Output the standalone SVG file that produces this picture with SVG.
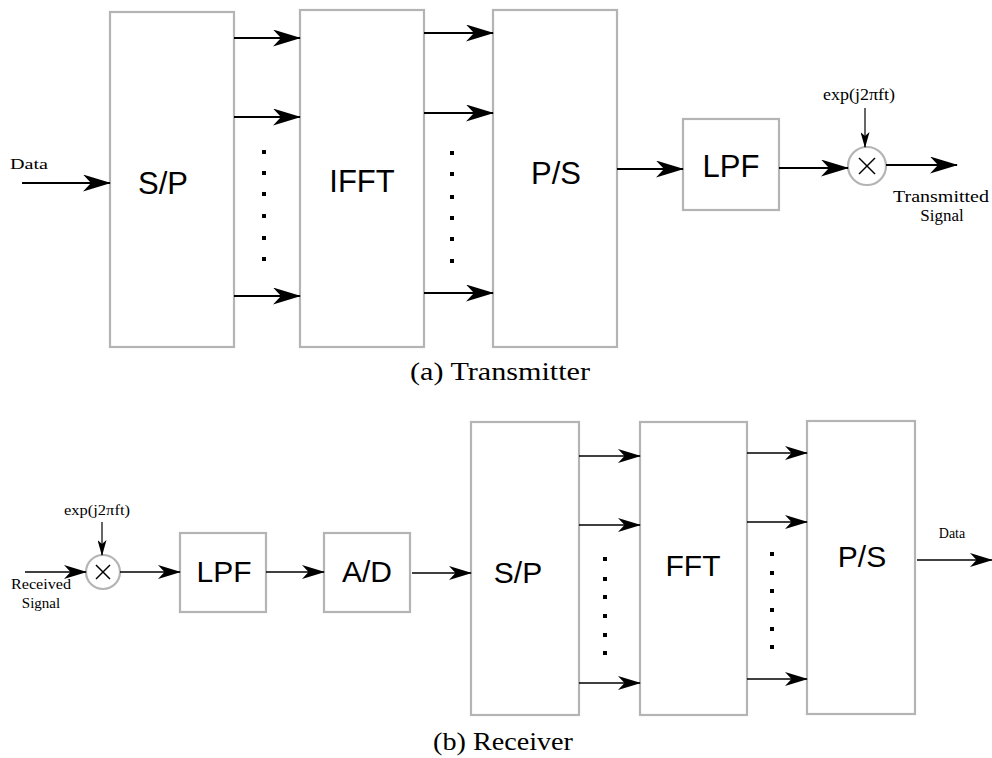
<svg xmlns="http://www.w3.org/2000/svg" width="992" height="758" viewBox="0 0 992 758">
<style>
.box{fill:#fff;stroke:#b4b4b4;stroke-width:2.2}
.mix{fill:#fff;stroke:#b4b4b4;stroke-width:2.2}
.lbl{font-family:"Liberation Sans",Arial,sans-serif;fill:#000;text-anchor:middle}
.ser{font-family:"Liberation Serif","Times New Roman",serif;fill:#000}
.big{stroke:#000;stroke-width:2;fill:none;marker-end:url(#ah)}
.sm{stroke:#000;stroke-width:1.6;fill:none;marker-end:url(#as)}
.th{stroke:#000;stroke-width:1.2;fill:none;marker-end:url(#at)}
.x{stroke:#000;stroke-width:1.5}
.dot{fill:#000}
</style>
<defs>
<marker id="ah" viewBox="0 0 28 17" refX="27" refY="8.5" markerWidth="28" markerHeight="17" markerUnits="userSpaceOnUse" orient="auto">
<path d="M0,0 L28,8.5 L0,17 L8,8.5 Z" fill="#000"/>
</marker>
<marker id="as" viewBox="0 0 23 14" refX="22" refY="7" markerWidth="23" markerHeight="14" markerUnits="userSpaceOnUse" orient="auto">
<path d="M0,0 L23,7 L0,14 L6.5,7 Z" fill="#000"/>
</marker>
<marker id="at" viewBox="0 0 16 9" refX="15" refY="4.5" markerWidth="16" markerHeight="9" markerUnits="userSpaceOnUse" orient="auto">
<path d="M0,0 L16,4.5 L0,9 L4,4.5 Z" fill="#000"/>
</marker>
</defs>

<!-- Transmitter -->
<g id="tx-data-label"><text class="ser" x="10" y="169" font-size="15" textLength="38" lengthAdjust="spacingAndGlyphs">Data</text></g>
<g id="tx-sp"><rect class="box" x="110" y="12" width="124" height="335"/><text class="lbl" x="163" y="194" font-size="31">S/P</text></g>
<g id="tx-ifft"><rect class="box" x="300" y="10" width="124" height="337"/><text class="lbl" x="362" y="192" font-size="31">IFFT</text></g>
<g id="tx-ps"><rect class="box" x="493" y="10" width="124" height="337"/><text class="lbl" x="556" y="184" font-size="31">P/S</text></g>
<g id="tx-lpf"><rect class="box" x="683" y="119" width="96" height="91"/><text class="lbl" x="731" y="177" font-size="31">LPF</text></g>
<g id="tx-mixer"><circle class="mix" cx="867" cy="166" r="19"/><line class="x" x1="859" y1="158" x2="875" y2="174"/><line class="x" x1="875" y1="158" x2="859" y2="174"/></g>
<g id="tx-exp"><text class="ser" x="823" y="100" font-size="16" textLength="72" lengthAdjust="spacingAndGlyphs">exp(j2πft)</text></g>
<g id="tx-out-label"><text class="ser" x="893" y="202" font-size="17" textLength="96" lengthAdjust="spacingAndGlyphs">Transmitted</text><text class="ser" x="942" y="221" font-size="17" text-anchor="middle">Signal</text></g>
<g id="tx-dots">
<rect class="dot" x="262" y="150" width="4" height="4"/><rect class="dot" x="262" y="171" width="4" height="4"/><rect class="dot" x="262" y="192" width="4" height="4"/><rect class="dot" x="262" y="214" width="4" height="4"/><rect class="dot" x="262" y="236" width="4" height="4"/><rect class="dot" x="262" y="257" width="4" height="4"/>
<rect class="dot" x="450" y="151" width="4" height="4"/><rect class="dot" x="450" y="172" width="4" height="4"/><rect class="dot" x="450" y="195" width="4" height="4"/><rect class="dot" x="450" y="216" width="4" height="4"/><rect class="dot" x="450" y="237" width="4" height="4"/><rect class="dot" x="450" y="259" width="4" height="4"/>
</g>
<g id="tx-caption"><text class="ser" x="410" y="380" font-size="25" textLength="180" lengthAdjust="spacingAndGlyphs">(a) Transmitter</text></g>

<!-- Receiver -->
<g id="rx-exp"><text class="ser" x="64" y="515" font-size="15" textLength="66" lengthAdjust="spacingAndGlyphs">exp(j2πft)</text></g>
<g id="rx-in-label"><text class="ser" x="11" y="589" font-size="15" textLength="60" lengthAdjust="spacingAndGlyphs">Received</text><text class="ser" x="41" y="608" font-size="15" text-anchor="middle">Signal</text></g>
<g id="rx-mixer"><circle class="mix" cx="103" cy="572" r="17"/><line class="x" x1="96" y1="565" x2="110" y2="579"/><line class="x" x1="110" y1="565" x2="96" y2="579"/></g>
<g id="rx-lpf"><rect class="box" x="180" y="533" width="86" height="79"/><text class="lbl" x="224" y="582" font-size="30">LPF</text></g>
<g id="rx-ad"><rect class="box" x="324" y="533" width="86" height="79"/><text class="lbl" x="367" y="582" font-size="30">A/D</text></g>
<g id="rx-sp"><rect class="box" x="471" y="422" width="108" height="293"/><text class="lbl" x="518" y="583" font-size="30">S/P</text></g>
<g id="rx-fft"><rect class="box" x="640" y="422" width="107" height="293"/><text class="lbl" x="693" y="576" font-size="30">FFT</text></g>
<g id="rx-ps"><rect class="box" x="807" y="421" width="108" height="293"/><text class="lbl" x="862" y="567" font-size="30">P/S</text></g>
<g id="rx-data-label"><text class="ser" x="952" y="538" font-size="14" text-anchor="middle">Data</text></g>
<g id="rx-dots">
<rect class="dot" x="603" y="557" width="4" height="4"/><rect class="dot" x="603" y="577" width="4" height="4"/><rect class="dot" x="603" y="595" width="4" height="4"/><rect class="dot" x="603" y="614" width="4" height="4"/><rect class="dot" x="603" y="633" width="4" height="4"/><rect class="dot" x="603" y="651" width="4" height="4"/>
<rect class="dot" x="770" y="552" width="4" height="4"/><rect class="dot" x="770" y="571" width="4" height="4"/><rect class="dot" x="770" y="589" width="4" height="4"/><rect class="dot" x="770" y="608" width="4" height="4"/><rect class="dot" x="770" y="627" width="4" height="4"/><rect class="dot" x="770" y="645" width="4" height="4"/>
</g>
<g id="rx-caption"><text class="ser" x="433" y="750" font-size="25" textLength="140" lengthAdjust="spacingAndGlyphs">(b) Receiver</text></g>

<g id="connectors">
<line class="big" x1="22" y1="183" x2="110" y2="183"/>
<line class="big" x1="234" y1="38" x2="300" y2="38"/>
<line class="big" x1="234" y1="117" x2="300" y2="117"/>
<line class="big" x1="234" y1="296" x2="300" y2="296"/>
<line class="big" x1="424" y1="33" x2="493" y2="33"/>
<line class="big" x1="424" y1="113" x2="493" y2="113"/>
<line class="big" x1="424" y1="293" x2="493" y2="293"/>
<line class="big" x1="617" y1="169" x2="683" y2="169"/>
<line class="big" x1="779" y1="168" x2="848" y2="168"/>
<line class="big" x1="886" y1="165" x2="957" y2="165"/>
<line class="th" x1="865" y1="108" x2="865" y2="147"/>
<line class="sm" x1="25" y1="572" x2="86" y2="572"/>
<line class="th" x1="102" y1="522" x2="102" y2="555"/>
<line class="sm" x1="120" y1="572" x2="180" y2="572"/>
<line class="sm" x1="266" y1="572" x2="324" y2="572"/>
<line class="sm" x1="412" y1="573" x2="471" y2="573"/>
<line class="sm" x1="579" y1="456" x2="640" y2="456"/>
<line class="sm" x1="579" y1="525" x2="640" y2="525"/>
<line class="sm" x1="579" y1="683" x2="640" y2="683"/>
<line class="sm" x1="747" y1="453" x2="807" y2="453"/>
<line class="sm" x1="747" y1="522" x2="807" y2="522"/>
<line class="sm" x1="747" y1="679" x2="807" y2="679"/>
<line class="sm" x1="917" y1="560" x2="992" y2="560"/>
</g>
</svg>
